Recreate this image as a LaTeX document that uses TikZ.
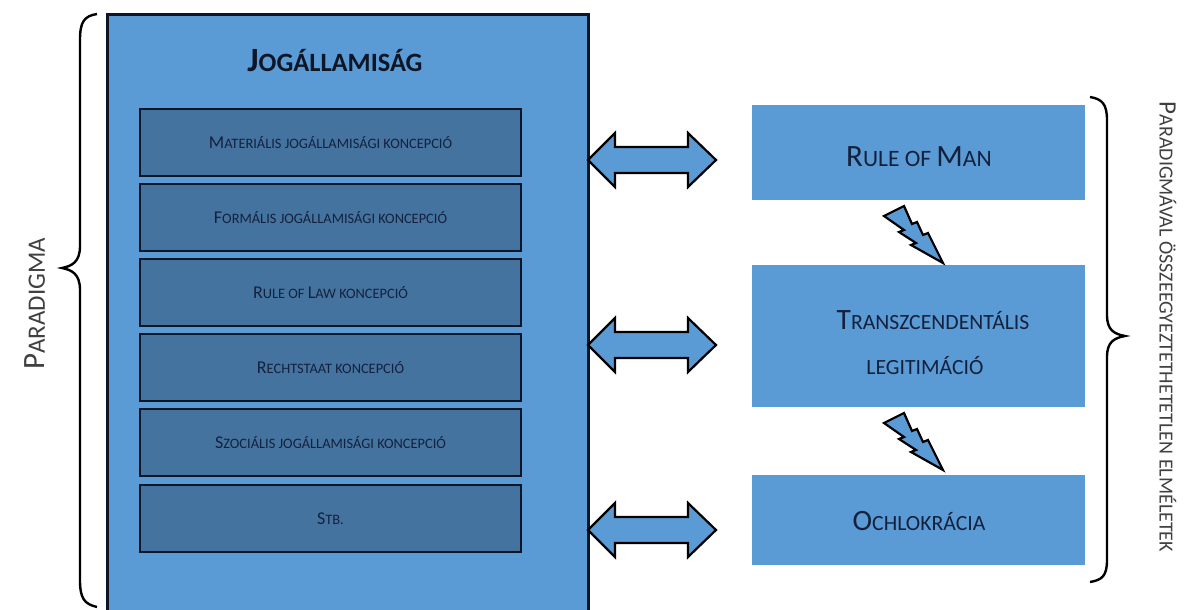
\documentclass[tikz,border=0pt]{standalone}
\usepackage{fontspec}
\setmainfont{Carlito}
\definecolor{mainblue}{HTML}{5B9BD5}
\definecolor{innerblue}{HTML}{44739F}
\definecolor{navy}{HTML}{14213D}
\definecolor{edge}{HTML}{0D1626}
\newcommand{\FSC}[4]{{\fontsize{#1}{#1}\selectfont #3\fontsize{#2}{#2}\selectfont #4}}
\tikzset{
  innerbox/.style={draw=edge, line width=2.2pt, fill=innerblue},
  rightbox/.style={fill=mainblue},
  dblarrow/.style={draw=black, line width=2.2pt, fill=mainblue, line join=miter},
  bolt/.style={draw=black, line width=2.2pt, fill=mainblue, line join=miter},
  brace/.style={draw=black, line width=2.4pt},
  lbl/.style={text=navy, inner sep=0pt, anchor=center},
  side/.style={text=black!75, inner sep=0pt, anchor=center}
}
\begin{document}
\begin{tikzpicture}[x=1pt,y=-1pt]
\useasboundingbox (0,0) rectangle (1195,610);
\fill[white] (0,0) rectangle (1195,610);
% main box
\fill[mainblue] (107,15) rectangle (588,612);
\draw[draw=edge, line width=3pt] (107,612) -- (107,15) -- (588,15) -- (588,612);
\node[lbl, text=edge] (title) at (335,61) {\bfseries\FSC{34}{26.4}{J}{OGÁLLAMISÁG}};
% inner boxes
\foreach \i/\ya/\yb/\t in {1/109/176/{\FSC{18}{14.4}{M}{ATERIÁLIS JOGÁLLAMISÁGI KONCEPCIÓ}},
  2/184/251/{\FSC{18}{14.4}{F}{ORMÁLIS JOGÁLLAMISÁGI KONCEPCIÓ}},
  3/259/326/{\FSC{18}{14.4}{R}{ULE OF }\FSC{18}{14.4}{L}{AW KONCEPCIÓ}},
  4/334/401/{\FSC{18}{14.4}{R}{ECHTSTAAT KONCEPCIÓ}},
  5/409/476/{\FSC{18}{14.4}{S}{ZOCIÁLIS JOGÁLLAMISÁGI KONCEPCIÓ}},
  6/485/552/{\FSC{18}{14.4}{S}{TB.}}}
{
  \draw[innerbox] (140,\ya) rectangle (521,\yb);
  \node[lbl] (in\i) at (330.5,{(\ya+\yb)/2}) {\t};
}
% right boxes
\fill[rightbox] (752,105) rectangle (1085,200);
\node[lbl] (rom) at (919,157) {\FSC{31}{23.5}{R}{ULE OF }\FSC{31}{23.5}{M}{AN}};
\fill[rightbox] (752,265) rectangle (1085,407);
\node[lbl] (tl1) at (933,320) {\FSC{29.5}{21.7}{T}{RANSZCENDENTÁLIS}};
\node[lbl] (tl2) at (925,366) {\FSC{21.7}{21.7}{}{LEGITIMÁCIÓ}};
\fill[rightbox] (752,475) rectangle (1085,565);
\node[lbl] (och) at (919,521) {\FSC{29.5}{21.7}{O}{CHLOKRÁCIA}};
% double arrows
\foreach \yc in {160,345,530}{
  \draw[dblarrow] (588,\yc) -- (615,{\yc-27}) -- (615,{\yc-13}) -- (688,{\yc-13}) -- (688,{\yc-27}) -- (716,\yc)
    -- (688,{\yc+27}) -- (688,{\yc+13}) -- (615,{\yc+13}) -- (615,{\yc+27}) -- cycle;
}
% lightning bolts
\foreach \dy in {0,207}{
  \begin{scope}[yshift={-\dy pt}]
  \draw[bolt] (884,216) -- (904,206) -- (912,224) -- (917,222) -- (923,235) -- (928,233) -- (943,263)
    -- (911,245) -- (916,243) -- (899,232) -- (904,230) -- cycle;
  \end{scope}
}
% braces
\draw[brace] (97,14) .. controls (84,16) and (80,22) .. (80,40) -- (80,246)
  .. controls (80,262) and (72,266) .. (62,268) .. controls (72,270) and (80,274) .. (80,290)
  -- (80,580) .. controls (80,598) and (84,604) .. (97,607);
\draw[brace] (1090,97) .. controls (1102,99) and (1107,104) .. (1107,120) -- (1107,315)
  .. controls (1107,330) and (1114,334) .. (1125,336) .. controls (1114,338) and (1107,342) .. (1107,357)
  -- (1107,560) .. controls (1107,576) and (1102,580) .. (1090,582);
% side labels
\node[side, rotate=90] (par) at (35,304) {\FSC{31}{25}{P}{ARADIGMA}};
\node[side, rotate=-90] (inc) at (1168,327) {\FSC{25}{20}{P}{ARADIGMÁVAL ÖSSZEEGYEZTETHETETLEN ELMÉLETEK}};
\end{tikzpicture}
\end{document}
